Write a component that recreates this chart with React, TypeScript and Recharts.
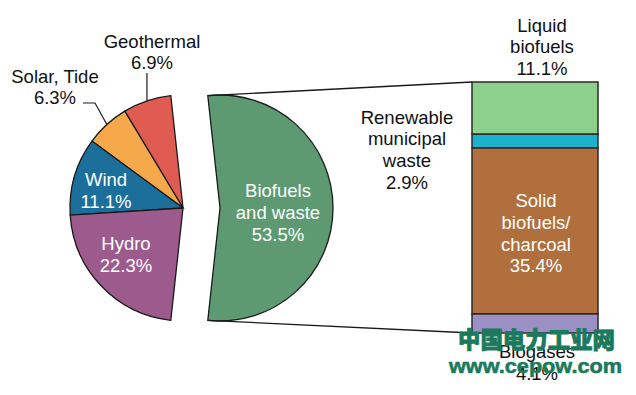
import { PieChart, Pie, Cell, BarChart, Bar, XAxis, YAxis } from "recharts";

// renewable sources (left pie)
const sources = ["Geothermal", "Solar, Tide", "Wind", "Hydro", "Biofuels and waste"];
const shares = [6.9, 6.3, 11.1, 22.3, 53.5];
const PIE_COLORS = ["#e05b51", "#f5a94b", "#1c6f9b", "#9c5b8c", "#5d9a72"];

// breakdown of biofuels and waste (stacked bar, bottom -> top)
const bioParts = ["Biogases", "Solid biofuels/charcoal", "Renewable municipal waste", "Liquid biofuels"];
const bioShares = [4.1, 35.4, 2.9, 11.1];
const BAR_COLORS = ["#9b90c3", "#b06f3c", "#1bb0cb", "#8dd08b"];

const pieData = sources.map((name, i) => ({ name, value: shares[i] }));
const barRow: any = { name: "Biofuels and waste" };
bioParts.forEach((p, i) => (barRow[p] = bioShares[i]));
const barData = [barRow];

const W = 636;
const H = 395;
const CX = 183;
const CY = 208;
const R = 113;
const SHIFT = 37; // exploded slice offset
const BAR_X = 472;
const BAR_TOP = 82;
const BAR_W = 126;
const BAR_H = 251;

const FONT = "'Liberation Sans', Arial, sans-serif";
const FS = 18.5;

const total = shares.reduce((a, b) => a + b, 0);
const bioIdx = sources.length - 1;
const leftSum = total - shares[bioIdx];
const START = 180 - (leftSum / total) * 180;
const bioTotal = bioShares.reduce((a, b) => a + b, 0);

const polar = (cx: number, cy: number, r: number, deg: number) => ({
  x: cx + r * Math.cos((deg * Math.PI) / 180),
  y: cy - r * Math.sin((deg * Math.PI) / 180),
});

// mid angle of each slice
const mids: number[] = [];
let acc = START;
shares.forEach((s) => {
  const a = (s / total) * 360;
  mids.push(acc + a / 2);
  acc += a;
});

const bioTop = polar(CX + SHIFT, CY, R, START);
const bioBottom = polar(CX + SHIFT, CY, R, START + (leftSum / total) * 360);
const geoEdge = polar(CX, CY, R, mids[0]);
const solarEdge = polar(CX, CY, R, mids[1]);

function Lines({ x, y, lines, color = "#111" }: { x: number; y: number; lines: string[]; color?: string }) {
  return (
    <text x={x} y={y} fill={color} fontSize={FS} fontFamily={FONT} textAnchor="middle">
      {lines.map((l, i) => (
        <tspan key={i} x={x} dy={i === 0 ? 0 : 21.8}>
          {l}
        </tspan>
      ))}
    </text>
  );
}

export default function App() {
  return (
    <div style={{ position: "absolute", left: 0, top: 0, width: W, height: H, background: "#fff" }}>
      <div style={{ position: "absolute", left: 0, top: 0 }}>
        <PieChart width={W} height={H} margin={{ top: 0, right: 0, bottom: 0, left: 0 }}>
          <Pie
            data={pieData}
            dataKey="value"
            nameKey="name"
            cx={CX}
            cy={CY}
            outerRadius={R}
            startAngle={START}
            endAngle={START + 360}
            isAnimationActive={false}
            label={false}
            labelLine={false}
          >
            {pieData.map((_, i) => (
              <Cell
                key={i}
                fill={i === bioIdx ? "none" : PIE_COLORS[i]}
                stroke={i === bioIdx ? "none" : "#1a1a1a"}
                strokeWidth={1.3}
              />
            ))}
          </Pie>
          <Pie
            data={pieData}
            dataKey="value"
            nameKey="name"
            cx={CX + SHIFT}
            cy={CY}
            outerRadius={R}
            startAngle={START}
            endAngle={START + 360}
            isAnimationActive={false}
            label={false}
            labelLine={false}
          >
            {pieData.map((_, i) => (
              <Cell
                key={i}
                fill={i === bioIdx ? PIE_COLORS[i] : "none"}
                stroke={i === bioIdx ? "#1a1a1a" : "none"}
                strokeWidth={1.3}
              />
            ))}
          </Pie>
        </PieChart>
      </div>

      <div style={{ position: "absolute", left: BAR_X - 2, top: BAR_TOP - 2 }}>
        <BarChart
          width={BAR_W + 4}
          height={BAR_H + 4}
          data={barData}
          margin={{ top: 2, right: 2, bottom: 2, left: 2 }}
          barCategoryGap={0}
        >
          <XAxis dataKey="name" hide />
          <YAxis type="number" hide domain={[0, bioTotal]} />
          {bioParts.map((p, i) => (
            <Bar
              key={p}
              dataKey={p}
              stackId="bio"
              fill={BAR_COLORS[i]}
              stroke="#2a2a2a"
              strokeWidth={1.5}
              isAnimationActive={false}
            />
          ))}
        </BarChart>
      </div>

      <svg width={W} height={H} style={{ position: "absolute", left: 0, top: 0 }}>
        {/* connectors from exploded slice to bar */}
        <line x1={bioTop.x} y1={bioTop.y} x2={BAR_X} y2={BAR_TOP} stroke="#1a1a1a" strokeWidth={1.3} />
        <line x1={bioBottom.x} y1={bioBottom.y} x2={BAR_X} y2={BAR_TOP + BAR_H} stroke="#1a1a1a" strokeWidth={1.3} />

        {/* leader lines */}
        <polyline
          points={`${geoEdge.x},${geoEdge.y} ${geoEdge.x},73`}
          fill="none"
          stroke="#1a1a1a"
          strokeWidth={1.2}
        />
        <polyline
          points={`${solarEdge.x},${solarEdge.y} 95,103 83,103`}
          fill="none"
          stroke="#1a1a1a"
          strokeWidth={1.2}
        />

        <Lines x={152} y={47.5} lines={["Geothermal", `${shares[0]}%`]} />
        <Lines x={55} y={82.5} lines={["Solar, Tide", `${shares[1]}%`]} />
        <Lines x={106} y={186} lines={["Wind", `${shares[2]}%`]} color="#fff" />
        <Lines x={126} y={250} lines={["Hydro", `${shares[3]}%`]} color="#fff" />
        <Lines x={278} y={197} lines={["Biofuels", "and waste", `${shares[4]}%`]} color="#fff" />

        <Lines x={542} y={31.5} lines={["Liquid", "biofuels", `${bioShares[3]}%`]} />
        <Lines x={407} y={123.5} lines={["Renewable", "municipal", "waste", `${bioShares[2]}%`]} />
        <Lines x={536} y={207} lines={["Solid", "biofuels/", "charcoal", `${bioShares[1]}%`]} color="#fff" />
        <Lines x={537} y={358} lines={["Biogases", `${bioShares[0]}%`]} />

        {/* watermark */}
        <text
          x={458}
          y={348}
          fill="#1a7a5d"
          stroke="#1a7a5d"
          strokeWidth={0.8}
          fontSize={23}
          fontWeight={900}
          fontFamily="'Noto Sans CJK SC', sans-serif"
          textLength={157}
          lengthAdjust="spacingAndGlyphs"
        >
          中国电力工业网
        </text>
        <text
          x={449}
          y={373}
          fill="#1a7a5d"
          stroke="#1a7a5d"
          strokeWidth={0.6}
          fontSize={21}
          fontWeight="bold"
          fontFamily={FONT}
          textLength={173}
          lengthAdjust="spacingAndGlyphs"
        >
          www.cepow.com
        </text>
      </svg>
    </div>
  );
}
